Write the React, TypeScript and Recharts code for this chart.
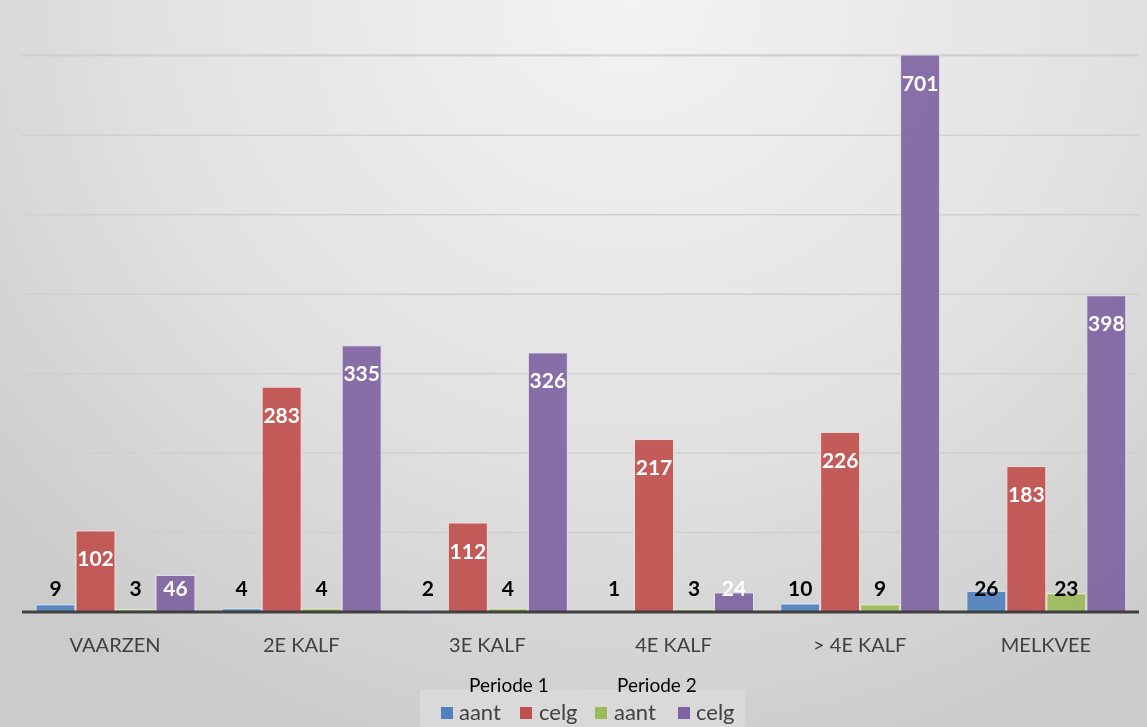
import React from 'react';
import { BarChart, Bar, XAxis, YAxis, CartesianGrid } from 'recharts';

const categories = ['VAARZEN', '2E KALF', '3E KALF', '4E KALF', '> 4E KALF', 'MELKVEE'];
const p1Aant = [9, 4, 2, 1, 10, 26];
const p1Celg = [102, 283, 112, 217, 226, 183];
const p2Aant = [3, 4, 4, 3, 9, 23];
const p2Celg = [46, 335, 326, 24, 701, 398];
const yTicks = [0, 100, 200, 300, 400, 500, 600, 700];

const data = categories.map((c, i) => ({
  name: c,
  p1Aant: p1Aant[i],
  p1Celg: p1Celg[i],
  p2Aant: p2Aant[i],
  p2Celg: p2Celg[i],
}));

const FONT = 'Lato, "Open Sans", "Liberation Sans", sans-serif';

const makeLabel = (color: string) => (props: any) => {
  const { x, y, width, height, value } = props;
  const base = Number(y) + Number(height);
  const cy = Math.min(Number(y) + 27, base - 25);
  return (
    <text
      x={Number(x) + Number(width) / 2}
      y={cy}
      textAnchor="middle"
      dominantBaseline="central"
      fill={color}
      fontFamily={FONT}
      fontWeight={700}
      fontSize={21}
    >
      {value}
    </text>
  );
};

const legendItems = [
  { color: '#4F81BD', label: 'aant', sq: 441, tx: 459 },
  { color: '#C0504D', label: 'celg', sq: 520, tx: 539 },
  { color: '#9BBB59', label: 'aant', sq: 595, tx: 614 },
  { color: '#8064A2', label: 'celg', sq: 678, tx: 696 },
];

export default function App() {
  return (
    <div
      style={{
        position: 'fixed',
        left: 0,
        top: 0,
        width: 1147,
        height: 727,
        background: 'radial-gradient(ellipse 75% 110% at 55% 0%, #f3f3f3 0%, #e2e2e2 55%, #cbcbcb 100%)',
        fontFamily: FONT,
        overflow: 'hidden',
      }}
    >
      <BarChart
        width={1147}
        height={727}
        data={data}
        margin={{ top: 55, right: 8, bottom: 0, left: 22 }}
        barCategoryGap={14}
        barGap={1}
      >
        <CartesianGrid vertical={false} stroke="#cfcfcf" strokeWidth={1.5} />
        <YAxis hide domain={[0, 700]} ticks={yTicks} />
        <XAxis
          dataKey="name"
          height={115}
          axisLine={{ stroke: '#404040', strokeWidth: 3 }}
          tickLine={false}
          tick={{ fill: '#404040', fontSize: 20, fontFamily: FONT }}
          tickMargin={20}
          interval={0}
        />
        <Bar dataKey="p1Aant" fill="#4F81BD" fillOpacity={0.92} stroke="#dfe6f0" strokeWidth={1} isAnimationActive={false} label={makeLabel('#000000')} />
        <Bar dataKey="p1Celg" fill="#C0504D" fillOpacity={0.92} stroke="#f0dede" strokeWidth={1} isAnimationActive={false} label={makeLabel('#ffffff')} />
        <Bar dataKey="p2Aant" fill="#9BBB59" fillOpacity={0.92} stroke="#e6eedd" strokeWidth={1} isAnimationActive={false} label={makeLabel('#000000')} />
        <Bar dataKey="p2Celg" fill="#8064A2" fillOpacity={0.92} stroke="#e6e0ee" strokeWidth={1} isAnimationActive={false} label={makeLabel('#ffffff')} />
      </BarChart>
      <div
        style={{
          position: 'absolute',
          left: 420,
          top: 690,
          width: 325,
          height: 37,
          background: '#d9d9d9',
        }}
      />
      <div style={{ position: 'absolute', left: 469, top: 673, fontSize: 19, color: '#000', lineHeight: '24px' }}>Periode 1</div>
      <div style={{ position: 'absolute', left: 617, top: 673, fontSize: 19, color: '#000', lineHeight: '24px' }}>Periode 2</div>
      {legendItems.map((it, i) => (
        <React.Fragment key={i}>
          <div
            style={{
              position: 'absolute',
              left: it.sq,
              top: 707,
              width: 12,
              height: 12,
              background: it.color,
            }}
          />
          <div
            style={{
              position: 'absolute',
              left: it.tx,
              top: 699,
              fontSize: 22,
              color: '#404040',
              lineHeight: '26px',
            }}
          >
            {it.label}
          </div>
        </React.Fragment>
      ))}
    </div>
  );
}
